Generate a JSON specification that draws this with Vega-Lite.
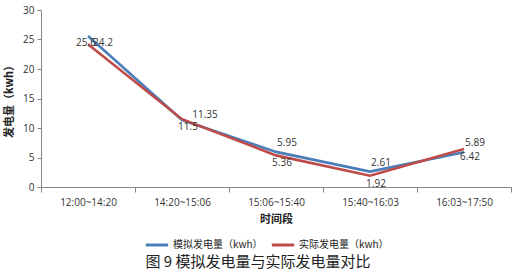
{
  "$schema": "https://vega.github.io/schema/vega-lite/v6.json",
  "width": 470,
  "height": 177,
  "autosize": {"type": "none"},
  "padding": {"left": 41, "top": 10, "right": 7, "bottom": 90},
  "background": "white",
  "config": {
    "view": {"stroke": null},
    "font": "Noto Sans CJK SC",
    "axis": {
      "domainColor": "#868686",
      "tickColor": "#868686",
      "labelColor": "#333333",
      "labelFont": "Open Sans",
      "labelFontSize": 10,
      "grid": false,
      "titleFont": "Noto Sans CJK SC",
      "titleFontWeight": "bold",
      "titleFontSize": 11,
      "titleColor": "#222222"
    }
  },
  "title": {
    "text": "图 9  模拟发电量与实际发电量对比",
    "orient": "bottom",
    "anchor": "middle",
    "dx": -18,
    "font": "Noto Sans CJK SC",
    "fontSize": 15,
    "fontWeight": "normal",
    "color": "#222222",
    "offset": 4
  },
  "data": {
    "values": [
      {"period": "12:00~14:20", "series": "模拟发电量（kwh）", "value": 25.6},
      {"period": "14:20~15:06", "series": "模拟发电量（kwh）", "value": 11.35},
      {"period": "15:06~15:40", "series": "模拟发电量（kwh）", "value": 5.95},
      {"period": "15:40~16:03", "series": "模拟发电量（kwh）", "value": 2.61},
      {"period": "16:03~17:50", "series": "模拟发电量（kwh）", "value": 5.89},
      {"period": "12:00~14:20", "series": "实际发电量（kwh）", "value": 24.2},
      {"period": "14:20~15:06", "series": "实际发电量（kwh）", "value": 11.5},
      {"period": "15:06~15:40", "series": "实际发电量（kwh）", "value": 5.36},
      {"period": "15:40~16:03", "series": "实际发电量（kwh）", "value": 1.92},
      {"period": "16:03~17:50", "series": "实际发电量（kwh）", "value": 6.42}
    ]
  },
  "encoding": {
    "x": {
      "field": "period",
      "type": "nominal",
      "sort": null,
      "scale": {"paddingInner": 0, "paddingOuter": 0},
      "axis": {
        "title": "时间段",
        "labelAngle": 0,
        "tickBand": "extent",
        "tickSize": 5,
        "labelPadding": 5,
        "titlePadding": 6
      }
    },
    "y": {
      "field": "value",
      "type": "quantitative",
      "scale": {"domain": [0, 30], "nice": false},
      "axis": {
        "title": "发电量（kwh）",
        "values": [0, 5, 10, 15, 20, 25, 30],
        "tickSize": 4,
        "labelPadding": 3,
        "titlePadding": 8
      }
    }
  },
  "layer": [
    {
      "mark": {"type": "line", "strokeWidth": 2.6},
      "encoding": {
        "color": {
          "field": "series",
          "type": "nominal",
          "sort": null,
          "scale": {
            "domain": ["模拟发电量（kwh）", "实际发电量（kwh）"],
            "range": ["#4A7EBB", "#BE4B48"]
          },
          "legend": {
            "title": null,
            "orient": "none",
            "direction": "horizontal",
            "legendX": 103,
            "legendY": 222,
            "symbolType": "stroke",
            "symbolSize": 500,
            "symbolStrokeWidth": 3,
            "labelFont": "Noto Sans CJK SC",
            "labelFontSize": 10,
            "labelColor": "#222222",
            "labelOffset": 3,
            "columnPadding": 2
          }
        }
      }
    },
    {
      "transform": [
        {"filter": "datum.series === '模拟发电量（kwh）' && datum.period !== '12:00~14:20' && datum.period !== '14:20~15:06'"}
      ],
      "mark": {"type": "text", "dx": 11, "dy": -9, "fontSize": 10, "font": "Open Sans", "color": "#333333"},
      "encoding": {"text": {"field": "value", "type": "quantitative"}}
    },
    {
      "transform": [
        {"filter": "datum.series === '模拟发电量（kwh）' && datum.period === '14:20~15:06'"}
      ],
      "mark": {"type": "text", "dx": 23, "dy": -5, "fontSize": 10, "font": "Open Sans", "color": "#333333"},
      "encoding": {"text": {"field": "value", "type": "quantitative"}}
    },
    {
      "transform": [
        {"filter": "datum.series === '实际发电量（kwh）' && datum.period !== '12:00~14:20'"}
      ],
      "mark": {"type": "text", "dx": 6, "dy": 8, "fontSize": 10, "font": "Open Sans", "color": "#333333"},
      "encoding": {"text": {"field": "value", "type": "quantitative"}}
    },
    {
      "transform": [
        {"filter": "datum.series === '模拟发电量（kwh）' && datum.period === '12:00~14:20'"}
      ],
      "mark": {"type": "text", "dx": -2, "dy": 7, "fontSize": 10, "font": "Open Sans", "color": "#333333"},
      "encoding": {"text": {"field": "value", "type": "quantitative"}}
    },
    {
      "transform": [
        {"filter": "datum.series === '实际发电量（kwh）' && datum.period === '12:00~14:20'"}
      ],
      "mark": {"type": "text", "dx": 15, "dy": -1, "fontSize": 10, "font": "Open Sans", "color": "#333333"},
      "encoding": {"text": {"field": "value", "type": "quantitative"}}
    }
  ]
}
